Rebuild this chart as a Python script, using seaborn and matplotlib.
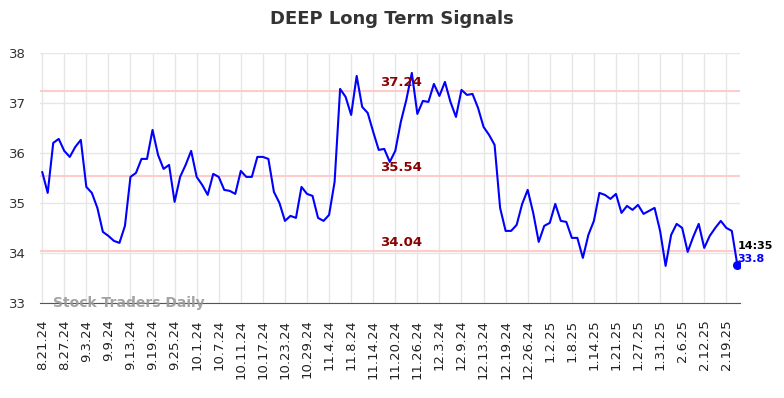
import numpy as np
import pandas as pd
import matplotlib
matplotlib.use("Agg")
import matplotlib.pyplot as plt
import seaborn as sns

# closing values (one per trading day)
prices = [
    35.62, 35.20, 36.20, 36.28, 36.04, 35.92, 36.12, 36.26, 35.32, 35.20,
    34.90, 34.42, 34.34, 34.24, 34.20, 34.54, 35.52, 35.60, 35.88, 35.88,
    36.46, 35.96, 35.68, 35.76, 35.02, 35.52, 35.76, 36.04, 35.52, 35.36,
    35.16, 35.58, 35.52, 35.26, 35.24, 35.18, 35.64, 35.52, 35.52, 35.92,
    35.92, 35.88, 35.22, 35.00, 34.64, 34.74, 34.70, 35.32, 35.18, 35.14,
    34.70, 34.64, 34.76, 35.42, 37.28, 37.12, 36.76, 37.54, 36.92, 36.80,
    36.42, 36.06, 36.08, 35.82, 36.04, 36.62, 37.06, 37.60, 36.78, 37.04,
    37.02, 37.38, 37.14, 37.42, 37.02, 36.72, 37.26, 37.16, 37.18, 36.90,
    36.52, 36.36, 36.16, 34.90, 34.44, 34.44, 34.56, 34.98, 35.26, 34.80,
    34.22, 34.54, 34.60, 34.98, 34.64, 34.62, 34.30, 34.30, 33.90, 34.36,
    34.64, 35.20, 35.16, 35.08, 35.18, 34.80, 34.94, 34.86, 34.96, 34.78,
    34.84, 34.90, 34.44, 33.74, 34.36, 34.58, 34.50, 34.02, 34.32, 34.58,
    34.10, 34.34, 34.50, 34.64, 34.50, 34.44, 33.76,
]

tick_labels = [
    "8.21.24", "8.27.24", "9.3.24", "9.9.24", "9.13.24", "9.19.24", "9.25.24",
    "10.1.24", "10.7.24", "10.11.24", "10.17.24", "10.23.24", "10.29.24",
    "11.4.24", "11.8.24", "11.14.24", "11.20.24", "11.26.24", "12.3.24",
    "12.9.24", "12.13.24", "12.19.24", "12.26.24", "1.2.25", "1.8.25",
    "1.14.25", "1.21.25", "1.27.25", "1.31.25", "2.6.25", "2.12.25", "2.19.25",
]

signal_levels = [37.24, 35.54, 34.04]
last_time = "14:35"
last_value = 33.8

df = pd.DataFrame({"idx": np.arange(len(prices)), "price": prices})

fig = plt.figure(figsize=(7.84, 3.98), dpi=100)
ax = fig.add_axes([0.051, 0.239, 0.893, 0.628])
sns.set_style("white")

sns.lineplot(data=df, x="idx", y="price", ax=ax, color="#0000ff", linewidth=1.5)

for lvl in signal_levels:
    ax.axhline(lvl, color="#ffcccc", linewidth=1.5, zorder=1)
    ax.text(65, lvl + 0.03, f"{lvl:.2f}", color="#8b0000", fontsize=9.5,
            fontweight="bold", ha="center", va="bottom")

# last point marker and label
last_i = len(prices) - 1
ax.scatter([last_i], [prices[-1]], color="#0000ff", s=30, zorder=5)
ax.text(last_i, prices[-1] + 0.38, last_time, fontsize=8, fontweight="bold",
        color="black", ha="left", va="center")
ax.text(last_i, prices[-1] + 0.12, f"{last_value}", fontsize=8, fontweight="bold",
        color="#0000ff", ha="left", va="center")

ax.text(2, 33.0, "Stock Traders Daily", fontsize=10, fontweight="bold",
        color="#999999", ha="left", va="center", alpha=0.9)

ax.set_xlim(-0.4, last_i + 0.5)
ax.set_ylim(33, 38)
ax.set_yticks([33, 34, 35, 36, 37, 38])
ax.set_xticks(np.arange(0, len(tick_labels) * 4, 4))
ax.set_xticklabels(tick_labels, rotation=90, fontsize=9.5, color="#222222")
ax.tick_params(axis="y", labelsize=9.5, colors="#333333", length=0, pad=10)
ax.tick_params(axis="x", length=0, pad=12)

ax.grid(True, color="#e6e6e6", linewidth=1)
ax.set_axisbelow(True)
for side in ["top", "right", "left"]:
    ax.spines[side].set_visible(False)
ax.spines["bottom"].set_color("#555555")
ax.set_xlabel("")
ax.set_ylabel("")

fig.suptitle("DEEP Long Term Signals", fontsize=13, fontweight="bold",
             color="#333333", y=0.975)

fig.savefig("out.png", dpi=100)
